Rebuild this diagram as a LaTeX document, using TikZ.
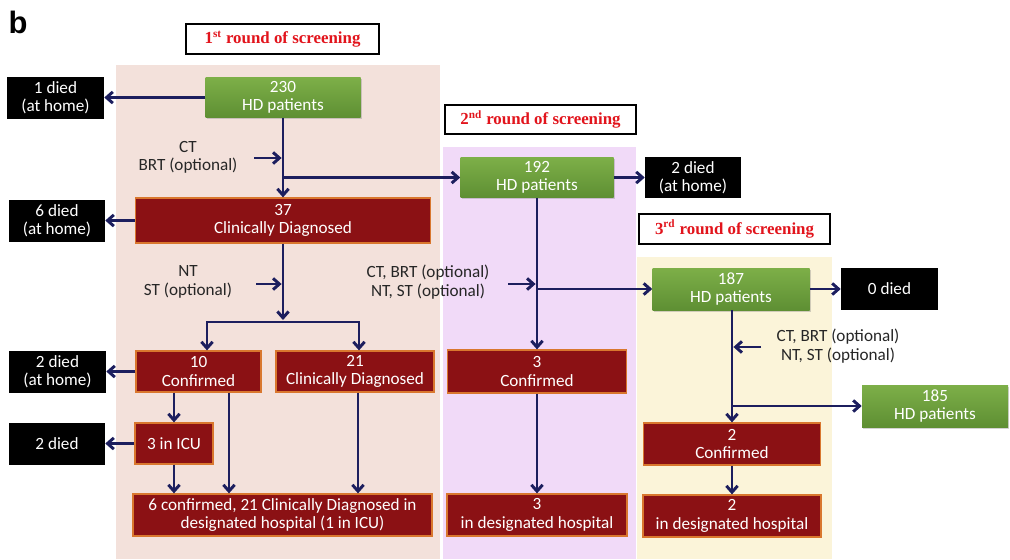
\documentclass[tikz,border=0pt]{standalone}
\usepackage{fontspec}
\setmainfont{Carlito}
\newfontfamily\titlefont{Liberation Serif}
\newfontfamily\panelfont{Liberation Sans}
\usetikzlibrary{arrows.meta, positioning, calc, shadows}

\definecolor{navy}{HTML}{1C1E5E}
\definecolor{gtop}{HTML}{7DAF48}
\definecolor{gbot}{HTML}{5E8F33}
\definecolor{boxred}{HTML}{8B1114}
\definecolor{boxedge}{HTML}{D9772E}
\definecolor{titlered}{HTML}{E2141C}
\definecolor{bgone}{HTML}{F3E1DB}
\definecolor{bgtwo}{HTML}{F1DAF8}
\definecolor{bgthree}{HTML}{FBF4D9}

\tikzset{
  wh/.style 2 args={minimum width=#1*0.025cm, minimum height=#2*0.025cm},
  base/.style={inner sep=0pt, align=center, text=white, font=\fontsize{12.2}{13}\selectfont},
  hd/.style={base, top color=gtop, bottom color=gbot, drop shadow={shadow xshift=1pt, shadow yshift=-1.2pt, opacity=0.35}},
  case/.style={base, fill=boxred, draw=boxedge, line width=0.9pt},
  died/.style={base, fill=black},
  roundtitle/.style={draw=black, line width=1pt, fill=white, inner sep=0pt, text=titlered, font=\titlefont\bfseries\fontsize{12}{14}\selectfont},
  note/.style={align=center, inner sep=0pt, font=\fontsize{12.2}{13}\selectfont, text=black!85},
  arr/.style={draw=navy, line width=2.1pt, ->},
}

\begin{document}
\begin{tikzpicture}[x=0.025cm, y=-0.025cm, >={Straight Barb[length=4.5pt,width=8pt]}]
\useasboundingbox (0,0) rectangle (1010,559);

% Panels
\fill[bgone] (116,65) rectangle (440,559);
\fill[bgtwo] (443,147) rectangle (636,559);
\fill[bgthree] (637,257) rectangle (832,559);

\node[font=\panelfont\bfseries\fontsize{22}{22}\selectfont] (tag) at (18,22) {b};

% Round titles
\node[roundtitle, wh={193}{30}] (t1) at (282.5,39) {1\textsuperscript{st} round of screening};
\node[roundtitle, wh={191}{29}] (t2) at (540.5,119.5) {2\textsuperscript{nd} round of screening};
\node[roundtitle, wh={191}{30}] (t3) at (734.5,229) {3\textsuperscript{rd} round of screening};

% 1st round
\node[hd, wh={155}{40}] (p1) at (283,97.5) {230\\HD patients};
\node[died, wh={97}{42}] (d1) at (55.5,97.5) {1 died\\(at home)};
\node[case, wh={295}{45}] (c37) at (283,220.5) {37\\Clinically Diagnosed};
\node[died, wh={96}{42}] (d6) at (57,220.5) {6 died\\(at home)};
\node[case, wh={125}{41}] (c10) at (198.5,371.5) {10\\Confirmed};
\node[case, wh={158}{41}] (c21) at (355,371.5) {21\\Clinically Diagnosed};
\node[died, wh={97}{42}] (d2a) at (57.5,371.5) {2 died\\(at home)};
\node[case, wh={78}{41}] (icu) at (174,443.5) {3 in ICU};
\node[died, wh={96}{42}] (d2b) at (57,443.5) {2 died};
\node[case, wh={299}{42}] (h1) at (282.5,515) {6 confirmed, 21 Clinically Diagnosed in\\designated hospital (1 in ICU)};

\node[note] (n1) at (188,157) {CT\\BRT (optional)};
\node[note] (n2) at (188,282) {NT\\ST (optional)};

% 2nd round
\node[hd, wh={153}{40}] (p2) at (537,177.5) {192\\HD patients};
\node[died, wh={96}{41}] (d2c) at (693,177.5) {2 died\\(at home)};
\node[case, wh={179}{43}] (c3) at (537,371.5) {3\\Confirmed};
\node[case, wh={180}{42}] (h2) at (537,515) {3\\in designated hospital};
\node[note] (n3) at (428,282) {CT, BRT (optional)\\NT, ST (optional)};

% 3rd round
\node[hd, wh={157}{42}] (p3) at (731,289) {187\\HD patients};
\node[died, wh={97}{42}] (d0) at (889.5,289) {0 died};
\node[case, wh={177}{42}] (c2) at (732,444) {2\\Confirmed};
\node[case, wh={178}{42}] (h3) at (732,516) {2\\in designated hospital};
\node[hd, wh={146}{42}] (p4) at (935,406) {185\\HD patients};
\node[note] (n4) at (838,346) {CT, BRT (optional)\\NT, ST (optional)};

% Flow of 1st round
\coordinate (in1) at (254,158);
\coordinate (in2) at (256,284);
\coordinate (sp) at (283,320);
\coordinate (spL) at (207,322);
\coordinate (spR) at (359,322);
\coordinate (k1) at (229,0);
\draw[arr] (p1.west) -- (d1.east);
\draw[arr] (p1.south) -- (c37.north);
\draw[arr, shorten >=1pt] (in1) -- (in1 -| p1.south);
\draw[arr] (p1.south |- p2.west) -- (p2.west);
\draw[arr] (c37.west) -- (d6.east);
\draw[arr] (c37.south) -- (sp);
\draw[arr, shorten >=1pt] (in2) -- (in2 -| c37.south);
\draw[arr, <->] (spL |- c10.north) -- (spL) -- (spR) -- (spR |- c21.north);
\draw[arr] (c10.west) -- (d2a.east);
\draw[arr] (icu.north |- c10.south) -- (icu.north);
\draw[arr] (icu.west) -- (d2b.east);
\draw[arr] (icu.south) -- (icu.south |- h1.north);
\draw[arr] (k1 |- c10.south) -- (k1 |- h1.north);
\draw[arr] ([xshift=0.075cm]c21.south) -- ([xshift=0.075cm]c21.south |- h1.north);

% Flow of 2nd round
\coordinate (in3) at (508,284);
\draw[arr] (p2.east) -- (d2c.west);
\draw[arr] (p2.south) -- (c3.north);
\draw[arr, shorten >=1pt] (in3) -- (in3 -| p2.south);
\draw[arr] (p2.south |- p3.west) -- (p3.west);
\draw[arr] (c3.south) -- (h2.north);

% Flow of 3rd round
\coordinate (in4) at (761,347);
\draw[arr] (p3.east) -- (d0.west);
\draw[arr] (p3.south -| c2.north) -- (c2.north);
\draw[arr, shorten >=1pt] (in4) -- (in4 -| c2.north);
\draw[arr] (c2.north |- p4.west) -- (p4.west);
\draw[arr] (c2.south) -- (h3.north);
\end{tikzpicture}
\end{document}
